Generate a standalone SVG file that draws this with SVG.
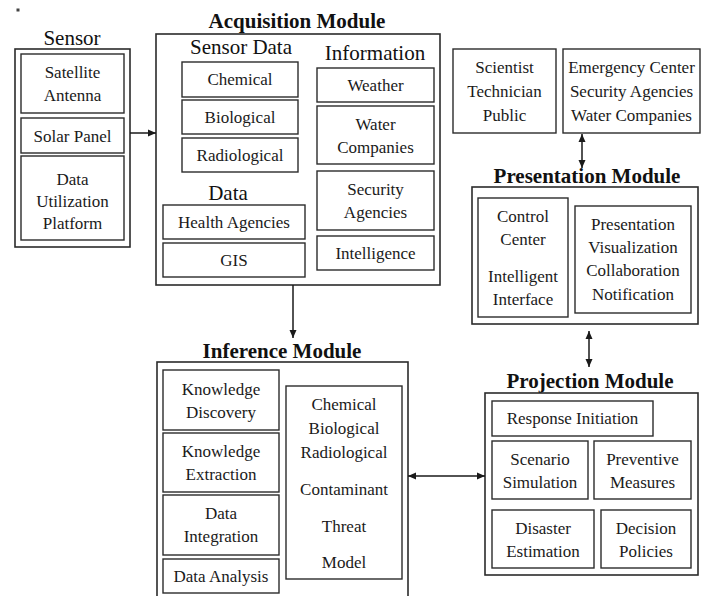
<svg xmlns="http://www.w3.org/2000/svg" width="702" height="596" viewBox="0 0 702 596">
  <defs>
    <style>
      .bg { fill: #ffffff; }
      .frame { fill: none; stroke: #2b2b2b; stroke-width: 1.6; }
      .box { fill: none; stroke: #2b2b2b; stroke-width: 1.4; }
      .t { font-family: "Liberation Serif", "Times New Roman", serif; font-size: 17px; fill: #1a1a1a; text-anchor: middle; }
      .h { font-family: "Liberation Serif", "Times New Roman", serif; font-size: 21px; fill: #111111; text-anchor: middle; }
      .hb { font-family: "Liberation Serif", "Times New Roman", serif; font-size: 21px; font-weight: bold; fill: #111111; text-anchor: middle; }
      .link { fill: none; stroke: #1a1a1a; stroke-width: 1.5; }
    </style>
    <marker id="head" viewBox="0 0 8 8" refX="8" refY="4" markerWidth="8" markerHeight="8" markerUnits="userSpaceOnUse" orient="auto-start-reverse">
      <path d="M0,0.5 L8,4 L0,7.5 Z" fill="#1a1a1a"/>
    </marker>
  </defs>

  <rect class="bg" x="0" y="0" width="702" height="596"/>
  <rect x="16.5" y="8.5" width="3" height="3" fill="#444444"/>

  <!-- Sensor -->
  <g id="sensor">
    <text class="h" x="72" y="45">Sensor</text>
    <rect class="frame" x="15" y="49" width="115" height="198"/>
    <rect class="box" x="21" y="54" width="103" height="59"/>
    <text class="t" x="72.5" y="78">Satellite</text>
    <text class="t" x="72.5" y="101">Antenna</text>
    <rect class="box" x="21" y="118" width="103" height="35"/>
    <text class="t" x="72.5" y="141.5">Solar Panel</text>
    <rect class="box" x="21" y="156" width="103" height="84"/>
    <text class="t" x="72.5" y="185">Data</text>
    <text class="t" x="72.5" y="207">Utilization</text>
    <text class="t" x="72.5" y="229">Platform</text>
  </g>

  <!-- Acquisition Module -->
  <g id="acquisition">
    <text class="hb" x="297" y="28">Acquisition Module</text>
    <rect class="frame" x="156" y="34" width="284" height="251"/>
    <text class="h" x="241" y="54">Sensor Data</text>
    <text class="h" x="375" y="60">Information</text>
    <rect class="box" x="182" y="62" width="116" height="35"/>
    <text class="t" x="240" y="85">Chemical</text>
    <rect class="box" x="182" y="100" width="116" height="34"/>
    <text class="t" x="240" y="123">Biological</text>
    <rect class="box" x="182" y="138" width="116" height="34"/>
    <text class="t" x="240" y="161">Radiological</text>
    <text class="h" x="228" y="200">Data</text>
    <rect class="box" x="163" y="205" width="142" height="34"/>
    <text class="t" x="234" y="228">Health Agencies</text>
    <rect class="box" x="163" y="243" width="142" height="34"/>
    <text class="t" x="234" y="266">GIS</text>
    <rect class="box" x="317" y="68" width="117" height="34"/>
    <text class="t" x="375.5" y="91">Weather</text>
    <rect class="box" x="317" y="106" width="117" height="58"/>
    <text class="t" x="375.5" y="130">Water</text>
    <text class="t" x="375.5" y="153">Companies</text>
    <rect class="box" x="317" y="171" width="117" height="59"/>
    <text class="t" x="375.5" y="195">Security</text>
    <text class="t" x="375.5" y="218">Agencies</text>
    <rect class="box" x="317" y="236" width="117" height="34"/>
    <text class="t" x="375.5" y="259">Intelligence</text>
  </g>

  <!-- User groups -->
  <g id="users">
    <rect class="box" x="453" y="49" width="103" height="84"/>
    <text class="t" x="504.5" y="73">Scientist</text>
    <text class="t" x="504.5" y="97">Technician</text>
    <text class="t" x="504.5" y="121">Public</text>
  </g>
  <g id="agencies">
    <rect class="box" x="563" y="49" width="137" height="84"/>
    <text class="t" x="631.5" y="73">Emergency Center</text>
    <text class="t" x="631.5" y="97">Security Agencies</text>
    <text class="t" x="631.5" y="121">Water Companies</text>
  </g>

  <!-- Presentation Module -->
  <g id="presentation">
    <text class="hb" x="587" y="183">Presentation Module</text>
    <rect class="frame" x="472" y="187" width="226" height="137"/>
    <rect class="box" x="478" y="198" width="90" height="119"/>
    <text class="t" x="523" y="222">Control</text>
    <text class="t" x="523" y="245">Center</text>
    <text class="t" x="523" y="282">Intelligent</text>
    <text class="t" x="523" y="305">Interface</text>
    <rect class="box" x="575" y="206" width="116" height="107"/>
    <text class="t" x="633" y="230">Presentation</text>
    <text class="t" x="633" y="253">Visualization</text>
    <text class="t" x="633" y="276">Collaboration</text>
    <text class="t" x="633" y="300">Notification</text>
  </g>

  <!-- Inference Module -->
  <g id="inference">
    <text class="hb" x="282" y="358">Inference Module</text>
    <rect class="frame" x="157" y="362" width="251" height="250"/>
    <rect class="box" x="163" y="370" width="116" height="60"/>
    <text class="t" x="221" y="395">Knowledge</text>
    <text class="t" x="221" y="418">Discovery</text>
    <rect class="box" x="163" y="433" width="116" height="59"/>
    <text class="t" x="221" y="457">Knowledge</text>
    <text class="t" x="221" y="480">Extraction</text>
    <rect class="box" x="163" y="495" width="116" height="60"/>
    <text class="t" x="221" y="519">Data</text>
    <text class="t" x="221" y="542">Integration</text>
    <rect class="box" x="163" y="559" width="116" height="34"/>
    <text class="t" x="221" y="582">Data Analysis</text>
    <rect class="box" x="286" y="386" width="116" height="193"/>
    <text class="t" x="344" y="410">Chemical</text>
    <text class="t" x="344" y="434">Biological</text>
    <text class="t" x="344" y="458">Radiological</text>
    <text class="t" x="344" y="495">Contaminant</text>
    <text class="t" x="344" y="532">Threat</text>
    <text class="t" x="344" y="568">Model</text>
  </g>

  <!-- Projection Module -->
  <g id="projection">
    <text class="hb" x="590" y="388">Projection Module</text>
    <rect class="frame" x="485" y="393" width="213" height="182"/>
    <rect class="box" x="492" y="401" width="161" height="35"/>
    <text class="t" x="572.5" y="424">Response Initiation</text>
    <rect class="box" x="492" y="441" width="96" height="58"/>
    <text class="t" x="540" y="465">Scenario</text>
    <text class="t" x="540" y="488">Simulation</text>
    <rect class="box" x="594" y="441" width="97" height="58"/>
    <text class="t" x="642.5" y="465">Preventive</text>
    <text class="t" x="642.5" y="488">Measures</text>
    <rect class="box" x="492" y="510" width="102" height="58"/>
    <text class="t" x="543" y="534">Disaster</text>
    <text class="t" x="543" y="557">Estimation</text>
    <rect class="box" x="601" y="510" width="90" height="58"/>
    <text class="t" x="646" y="534">Decision</text>
    <text class="t" x="646" y="557">Policies</text>
  </g>

  <!-- Connectors -->
  <g id="connectors">
    <line class="link" x1="130" y1="133" x2="156" y2="133" marker-end="url(#head)"/>
    <line class="link" x1="293" y1="285" x2="293" y2="338" marker-end="url(#head)"/>
    <line class="link" x1="582" y1="134" x2="582" y2="168" marker-start="url(#head)" marker-end="url(#head)"/>
    <line class="link" x1="589" y1="331" x2="589" y2="367" marker-start="url(#head)" marker-end="url(#head)"/>
    <line class="link" x1="408" y1="476" x2="485" y2="476" marker-start="url(#head)" marker-end="url(#head)"/>
  </g>
</svg>
